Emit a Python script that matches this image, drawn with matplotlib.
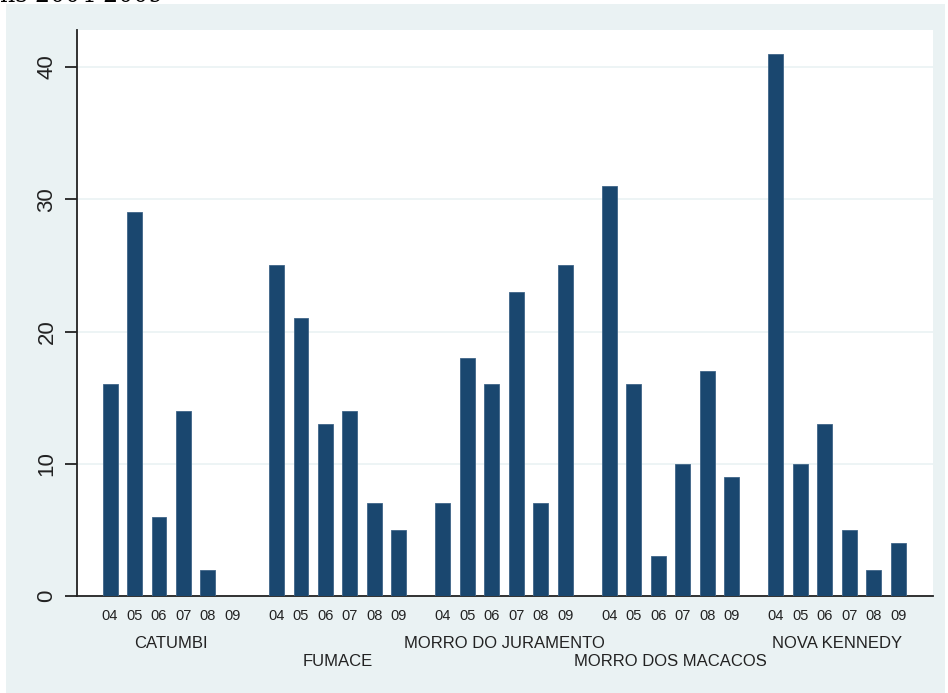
import matplotlib
matplotlib.use("Agg")
import matplotlib.pyplot as plt
import matplotlib.transforms as mtransforms
from matplotlib.patches import Rectangle

# Counts per favela and year
favelas = ["CATUMBI", "FUMACE", "MORRO DO JURAMENTO", "MORRO DOS MACACOS", "NOVA KENNEDY"]
years = ["04", "05", "06", "07", "08", "09"]
catumbi = [16, 29, 6, 14, 2, 0]
fumace = [25, 21, 13, 14, 7, 5]
juramento = [7, 18, 16, 23, 7, 25]
macacos = [31, 16, 3, 10, 17, 9]
kennedy = [41, 10, 13, 5, 2, 4]
series = [catumbi, fumace, juramento, macacos, kennedy]

BAR = "#1a476f"
BG = "#eaf2f3"
GROUP_STEP = 6.8

plt.rcParams["font.family"] = ["Liberation Sans", "DejaVu Sans"]

fig = plt.figure(figsize=(9.48, 6.93), dpi=100, facecolor="white")
W, H = 948, 693
fig.patches.append(Rectangle((6 / W, 0), (945 - 6) / W, (H - 4) / H,
                             transform=fig.transFigure, facecolor=BG,
                             edgecolor="none", zorder=-5))

ax = fig.add_axes([77 / W, (H - 596) / H, (933 - 77) / W, (596 - 30) / H])
ax.set_zorder(2)
ax.set_facecolor("white")

xs, labels = [], []
for g, vals in enumerate(series):
    pos = [g * GROUP_STEP + i for i in range(len(years))]
    ax.bar(pos, vals, width=0.61, color=BAR, edgecolor="#3f6588",
           linewidth=0.6, zorder=3)
    xs.extend(pos)
    labels.extend(years)

ax.set_xlim(-1.35, 4 * GROUP_STEP + 5 + 1.42)
ax.set_ylim(0, 42.8)
ax.set_yticks([0, 10, 20, 30, 40])
ax.set_yticklabels(["0", "10", "20", "30", "40"], rotation=90, va="center",
                   fontsize=16)
ax.set_xticks(xs)
ax.set_xticklabels(labels, fontsize=10.5)
ax.tick_params(axis="x", length=0, pad=9, colors="#222222")
ax.tick_params(axis="y", length=9, width=1.3, pad=5, colors="#222222")
ax.yaxis.grid(True, color=BG, linewidth=1.2, zorder=0)
ax.set_axisbelow(True)
for s in ("top", "right"):
    ax.spines[s].set_visible(False)
for s in ("left", "bottom"):
    ax.spines[s].set_color("#222222")
    ax.spines[s].set_linewidth(1.3)

# Favela names, staggered on two rows
trans = mtransforms.blended_transform_factory(ax.transData, fig.transFigure)
rows = [643, 661]
for g, name in enumerate(favelas):
    cx = g * GROUP_STEP + 2.5
    ax.text(cx, (H - rows[g % 2]) / H, name, transform=trans, ha="center",
            va="center", fontsize=12, color="#222222")

fig.text(0.0, 1 - 1.5 / H, "ns 2004-2009", family="DejaVu Serif", fontsize=17,
         ha="left", va="baseline", color="black")

fig.savefig("out.png", dpi=100, facecolor="white")
